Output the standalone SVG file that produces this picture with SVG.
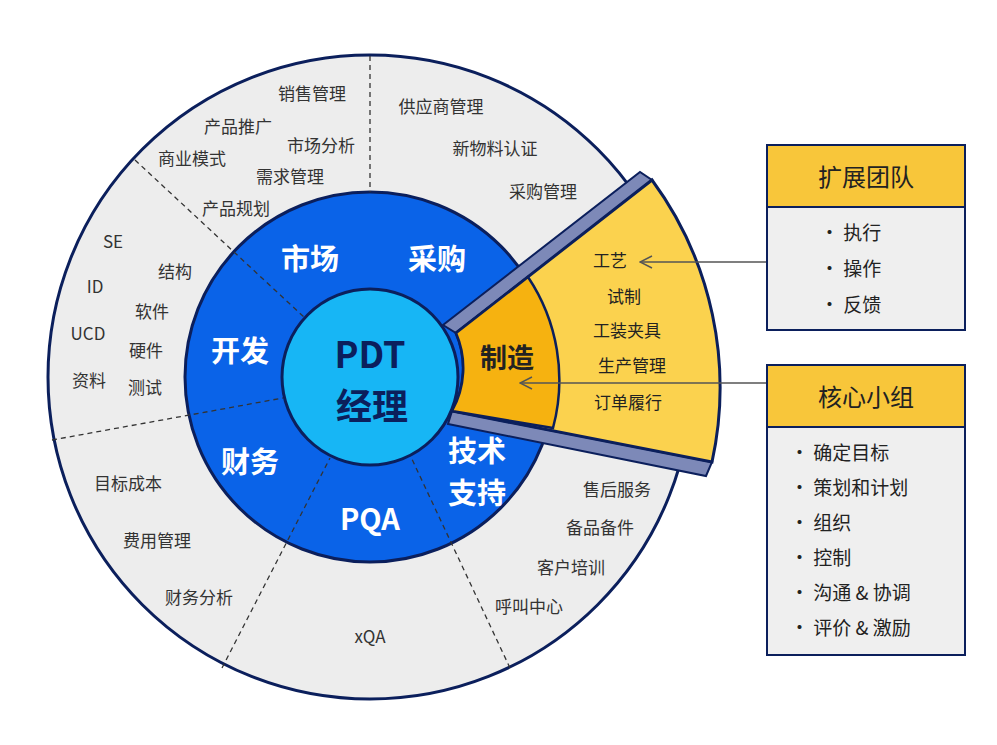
<svg xmlns="http://www.w3.org/2000/svg" width="997" height="745" viewBox="0 0 997 745">
<style>
text{font-family:"Noto Sans CJK SC","Noto Sans",sans-serif;}
.s{font-size:17px;fill:#333;text-anchor:middle;}
.w{font-size:29px;font-weight:bold;fill:#fff;text-anchor:middle;}
.d{stroke:#333;stroke-width:1.3;stroke-dasharray:5 4;fill:none;}
.y{font-size:17px;fill:#222;text-anchor:middle;}
.b{font-size:19px;fill:#222;}
</style>
<defs><marker id="a" markerWidth="14" markerHeight="14" refX="13" refY="7" orient="auto" markerUnits="userSpaceOnUse"><path d="M1 1 L13 7 L1 13" fill="none" stroke="#555" stroke-width="1.5"/></marker></defs>
<rect width="997" height="745" fill="#fff"/>
<g id="outer"><circle cx="370" cy="377" r="322" fill="#ededed" stroke="#0b1f5c" stroke-width="3"/></g>
<g id="ring"><circle cx="370" cy="377" r="185" fill="#0a63e8" stroke="#0b1f5c" stroke-width="3"/></g>
<g id="wedge">
<path d="M443 325 L640 172 L652 180 L456 333 Z" fill="#7d89b8" stroke="#0b1f5c" stroke-width="2"/>
<path d="M452 411 L712 462 L706 476 L448 424 Z" fill="#7d89b8" stroke="#0b1f5c" stroke-width="2"/>
<path d="M456 333 L652 180 A350 350 0 0 1 712 462 L452 411 A88 88 0 0 0 456 333 Z" fill="#fbd24e" stroke="#0b1f5c" stroke-width="3"/>
<path d="M456 333 L528 277 A185 185 0 0 1 553 428 L452 411 A88 88 0 0 0 456 333 Z" fill="#f6b210" stroke="#0b1f5c" stroke-width="2.5"/>
</g>
<g id="connectors">
<line class="d" x1="370" y1="56" x2="370" y2="192"/>
<line class="d" x1="135" y1="160" x2="305" y2="318"/>
<line class="d" x1="52" y1="440" x2="283" y2="398"/>
<line class="d" x1="222" y1="668" x2="330" y2="458"/>
<line class="d" x1="510" y1="668" x2="410" y2="455"/>
<line x1="767" y1="262" x2="640" y2="262" stroke="#555" stroke-width="1.5" marker-end="url(#a)"/>
<line x1="767" y1="383" x2="520" y2="383" stroke="#555" stroke-width="1.5" marker-end="url(#a)"/>
</g>
<g id="center"><circle cx="370" cy="377" r="88" fill="#17b6f5" stroke="#0b1f5c" stroke-width="3"/>
<text x="370" y="368" text-anchor="middle" font-size="36" font-weight="bold" fill="#0b1f5c">PDT</text>
<text x="372" y="420" text-anchor="middle" font-size="36" font-weight="bold" fill="#0b1f5c">经理</text></g>
<g id="labels-ring">
<text class="w" x="310" y="270">市场</text><text class="w" x="437" y="270">采购</text>
<text class="w" x="240" y="362">开发</text><text class="w" x="250" y="473">财务</text>
<text class="w" x="370" y="530">PQA</text>
<text class="w" x="477" y="462" font-size="26">技术</text><text class="w" x="477" y="504" font-size="26">支持</text>
<text x="507" y="368" text-anchor="middle" font-size="27" font-weight="bold" fill="#222">制造</text>
</g>
<g id="labels-outer">
<text class="s" x="312" y="100">销售管理</text><text class="s" x="238" y="133">产品推广</text>
<text class="s" x="321" y="152">市场分析</text><text class="s" x="192" y="165">商业模式</text>
<text class="s" x="290" y="183">需求管理</text><text class="s" x="236" y="215">产品规划</text>
<text class="s" x="441" y="113">供应商管理</text><text class="s" x="495" y="155">新物料认证</text>
<text class="s" x="543" y="198">采购管理</text>
<text class="s" x="113" y="248">SE</text><text class="s" x="175" y="278">结构</text>
<text class="s" x="95" y="293">ID</text><text class="s" x="152" y="318">软件</text>
<text class="s" x="88" y="340">UCD</text><text class="s" x="146" y="357">硬件</text>
<text class="s" x="89" y="387">资料</text><text class="s" x="145" y="394">测试</text>
<text class="s" x="128" y="490">目标成本</text><text class="s" x="157" y="547">费用管理</text>
<text class="s" x="199" y="604">财务分析</text><text class="s" x="370" y="643">xQA</text>
<text class="s" x="617" y="496">售后服务</text><text class="s" x="600" y="534">备品备件</text>
<text class="s" x="571" y="574">客户培训</text><text class="s" x="529" y="613">呼叫中心</text>
</g>
<g id="labels-wedge">
<text class="y" x="610" y="267">工艺</text><text class="y" x="624" y="303">试制</text>
<text class="y" x="627" y="337">工装夹具</text><text class="y" x="632" y="372">生产管理</text>
<text class="y" x="628" y="409">订单履行</text>
</g>
<g id="box1"><rect x="767" y="145" width="198" height="62" fill="#f8c63a" stroke="#0b1f5c" stroke-width="2"/>
<rect x="767" y="207" width="198" height="123" fill="#efefef" stroke="#0b1f5c" stroke-width="2"/>
<text x="866" y="186" text-anchor="middle" font-size="24" fill="#222">扩展团队</text>
<text class="b" x="820" y="240">· 执行</text><text class="b" x="820" y="276">· 操作</text><text class="b" x="820" y="312">· 反馈</text></g>
<g id="box2"><rect x="767" y="365" width="198" height="62" fill="#f8c63a" stroke="#0b1f5c" stroke-width="2"/>
<rect x="767" y="427" width="198" height="228" fill="#efefef" stroke="#0b1f5c" stroke-width="2"/>
<text x="866" y="406" text-anchor="middle" font-size="24" fill="#222">核心小组</text>
<text class="b" x="790" y="460">· 确定目标</text><text class="b" x="790" y="495">· 策划和计划</text>
<text class="b" x="790" y="530">· 组织</text><text class="b" x="790" y="565">· 控制</text>
<text class="b" x="790" y="600">· 沟通 &amp; 协调</text><text class="b" x="790" y="635">· 评价 &amp; 激励</text></g>
</svg>
